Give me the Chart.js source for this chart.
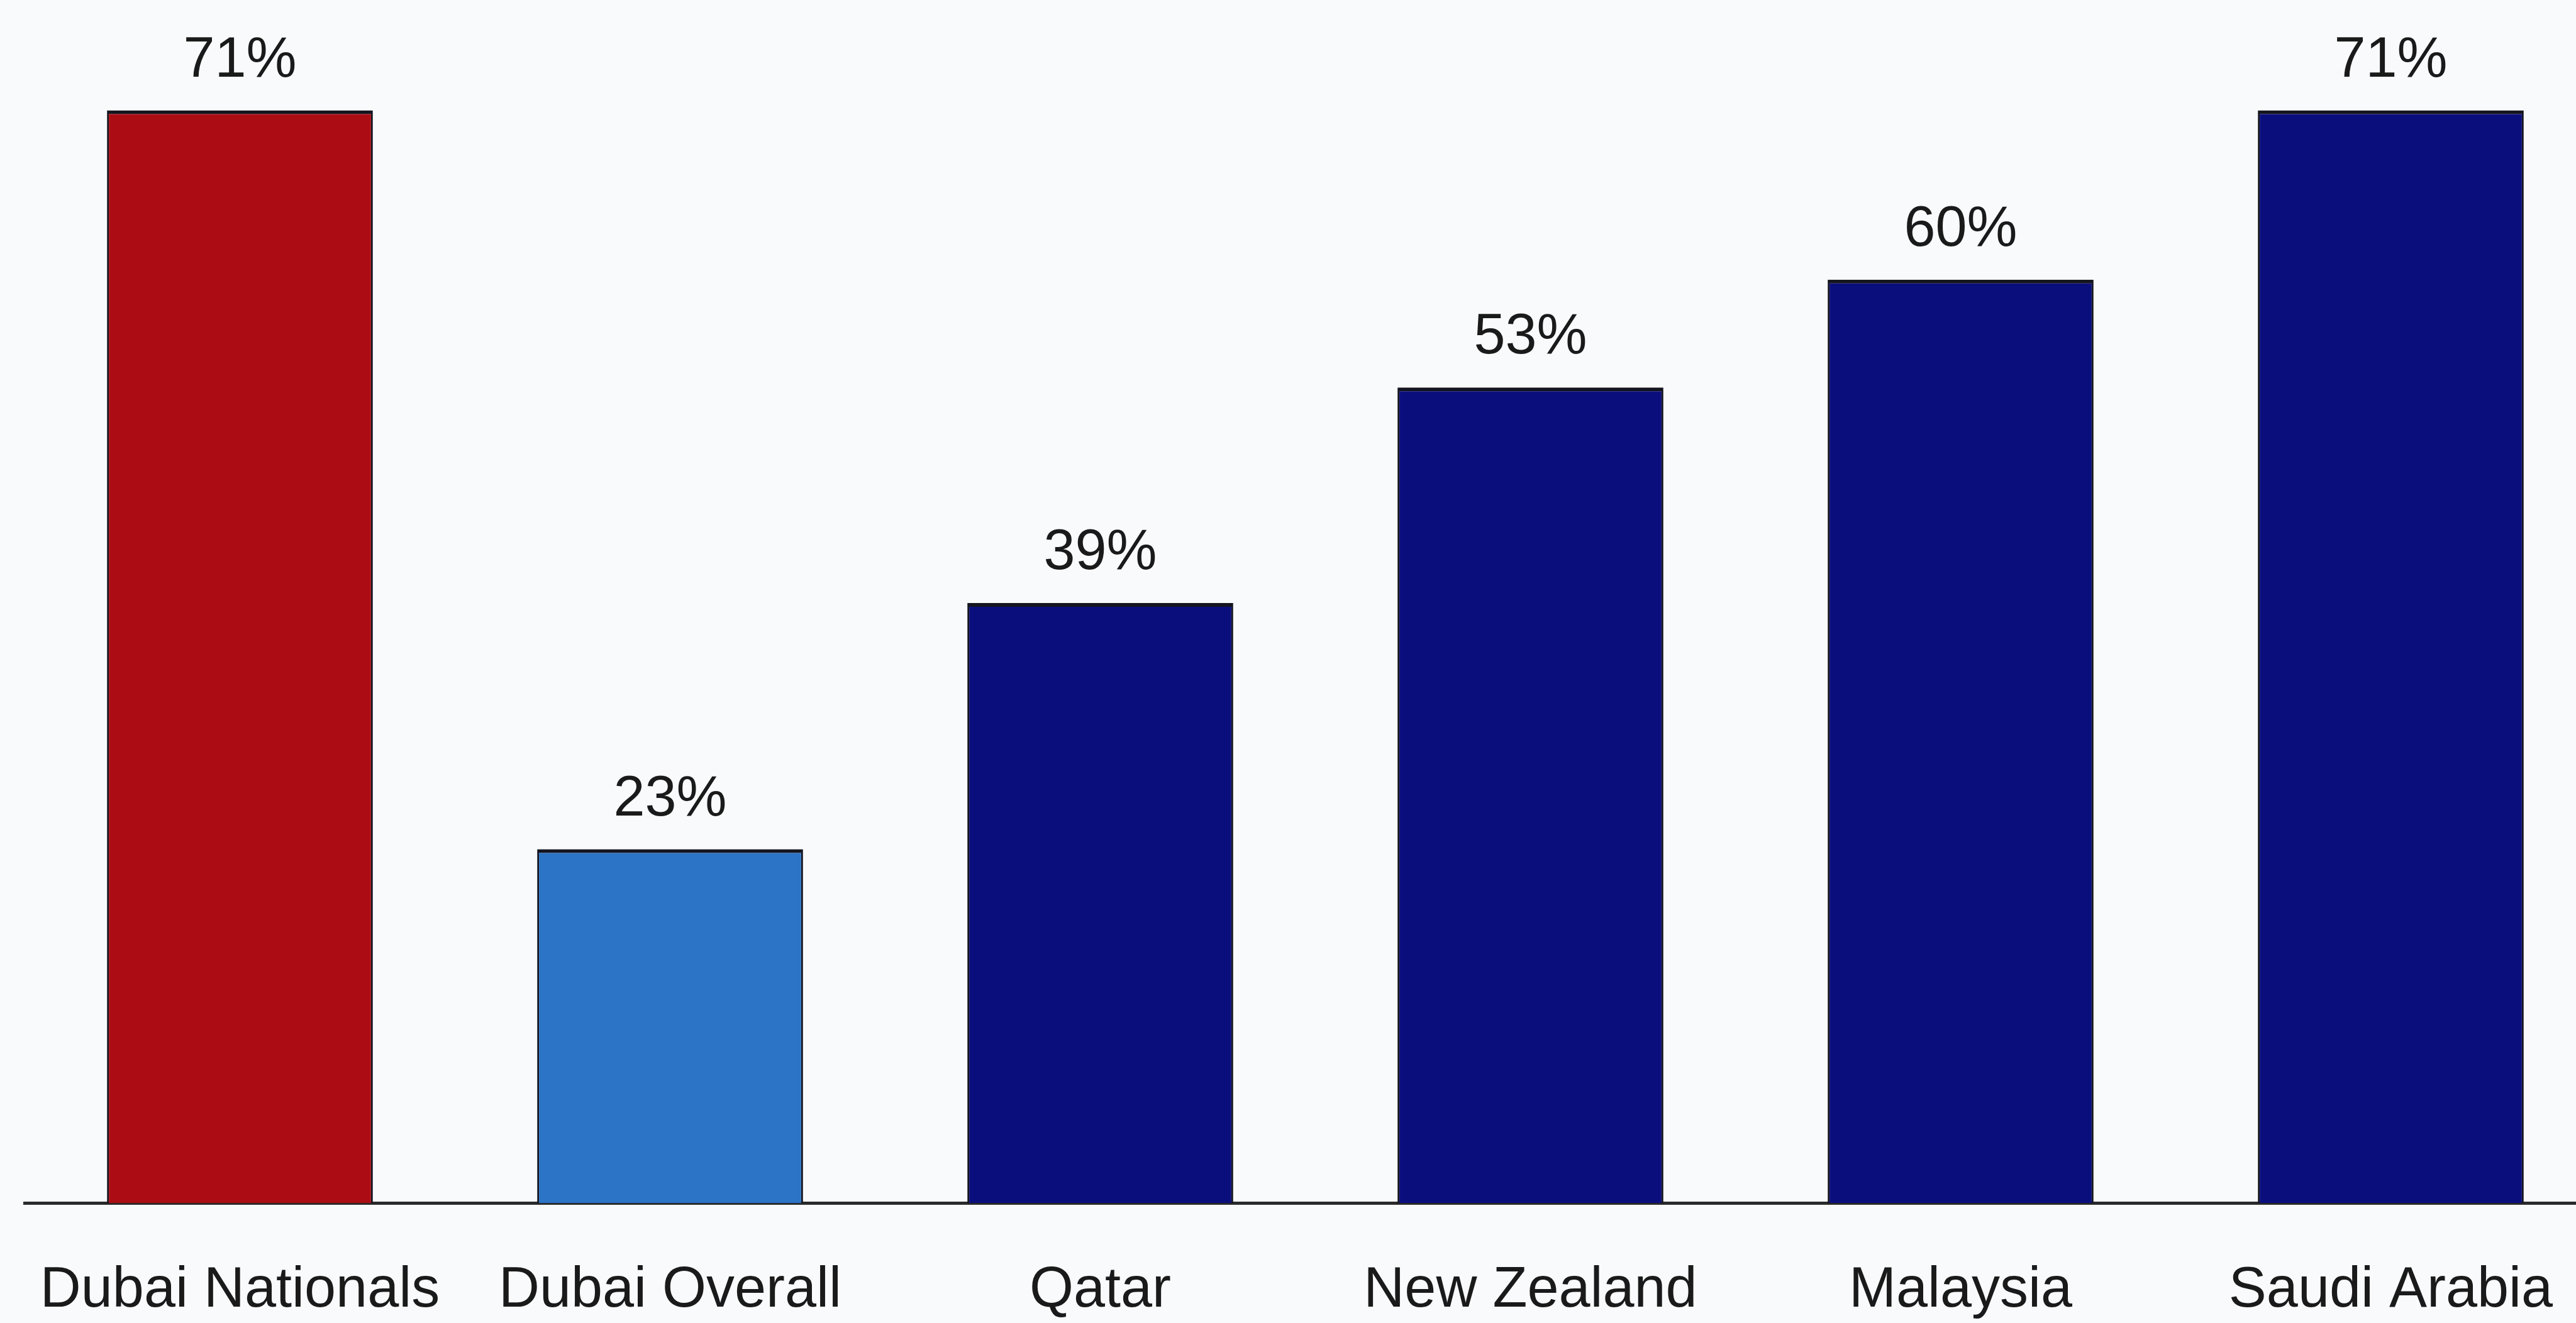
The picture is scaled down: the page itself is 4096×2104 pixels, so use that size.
<!DOCTYPE html>
<html>
<head>
<meta charset="utf-8">
<script src="https://cdn.jsdelivr.net/npm/chart.js@4.4.1/dist/chart.umd.min.js"></script>
<style>
	html, body {
		margin: 0;
		padding: 0;
		background: #f9fafc;
		overflow: hidden;
	}
	#wrap {
		width: 4096px;
		height: 2104px;
		overflow: hidden;
	}
</style>
</head>
<body>
<div id="wrap">
	<canvas id="bar-chart-countries" width="4150" height="2104"></canvas>
</div>
<script>
var categories = ["Dubai Nationals", "Dubai Overall", "Qatar", "New Zealand", "Malaysia", "Saudi Arabia"];
var values = [71, 23, 39, 53, 60, 71];
var barColors = ["#ac0d14", "#2b74c6", "#0a0e7c", "#0a0e7c", "#0a0e7c", "#0a0e7c"];

var fontFamily = "'Liberation Sans', Arial, Helvetica, sans-serif";
var textColor = "#1a1a1a";

// writes the percentage above each bar
var valueLabels = {
	id: "valueLabels",
	afterDatasetsDraw: function(chart) {
		var ctx = chart.ctx;
		var meta = chart.getDatasetMeta(0);
		ctx.save();
		ctx.font = "90px " + fontFamily;
		ctx.fillStyle = textColor;
		ctx.textAlign = "center";
		ctx.textBaseline = "alphabetic";
		for (var i = 0; i < meta.data.length; i++) {
			var bar = meta.data[i];
			ctx.fillText(values[i] + "%", bar.x, bar.y - 54);
		}
		ctx.restore();
	}
};

var ctx = document.getElementById("bar-chart-countries").getContext("2d");
var myChart = new Chart(ctx, {
	type: "bar",
	data: {
		labels: categories,
		datasets: [
			{
				data: values,
				backgroundColor: barColors,
				borderColor: "#15151f",
				borderWidth: { top: 6, left: 3, right: 3, bottom: 0 },
				borderSkipped: false,
				barPercentage: 0.618,
				categoryPercentage: 1,
			},
		],
	},
	options: {
		responsive: false,
		animation: false,
		devicePixelRatio: 1,
		layout: {
			padding: { top: 77.6, left: 39.5, right: 6.5, bottom: 0 },
		},
		plugins: {
			legend: { display: false },
			tooltip: { enabled: false },
		},
		scales: {
			x: {
				grid: { display: false, drawTicks: false },
				border: { display: true, color: "#2a2a2a", width: 5 },
				ticks: {
					color: textColor,
					padding: 88.4,
					font: { family: fontFamily, size: 90, lineHeight: 1.133 },
					maxRotation: 0,
					autoSkip: false,
				},
				// fixed band under the axis, no extra room for the outer labels
				afterFit: function(scale) {
					scale.height = 190.4;
					scale.paddingLeft = 0;
					scale.paddingRight = 0;
				},
			},
			y: {
				display: false,
				min: 0,
				max: 75,
			},
		},
	},
	plugins: [valueLabels],
});
</script>
</body>
</html>
